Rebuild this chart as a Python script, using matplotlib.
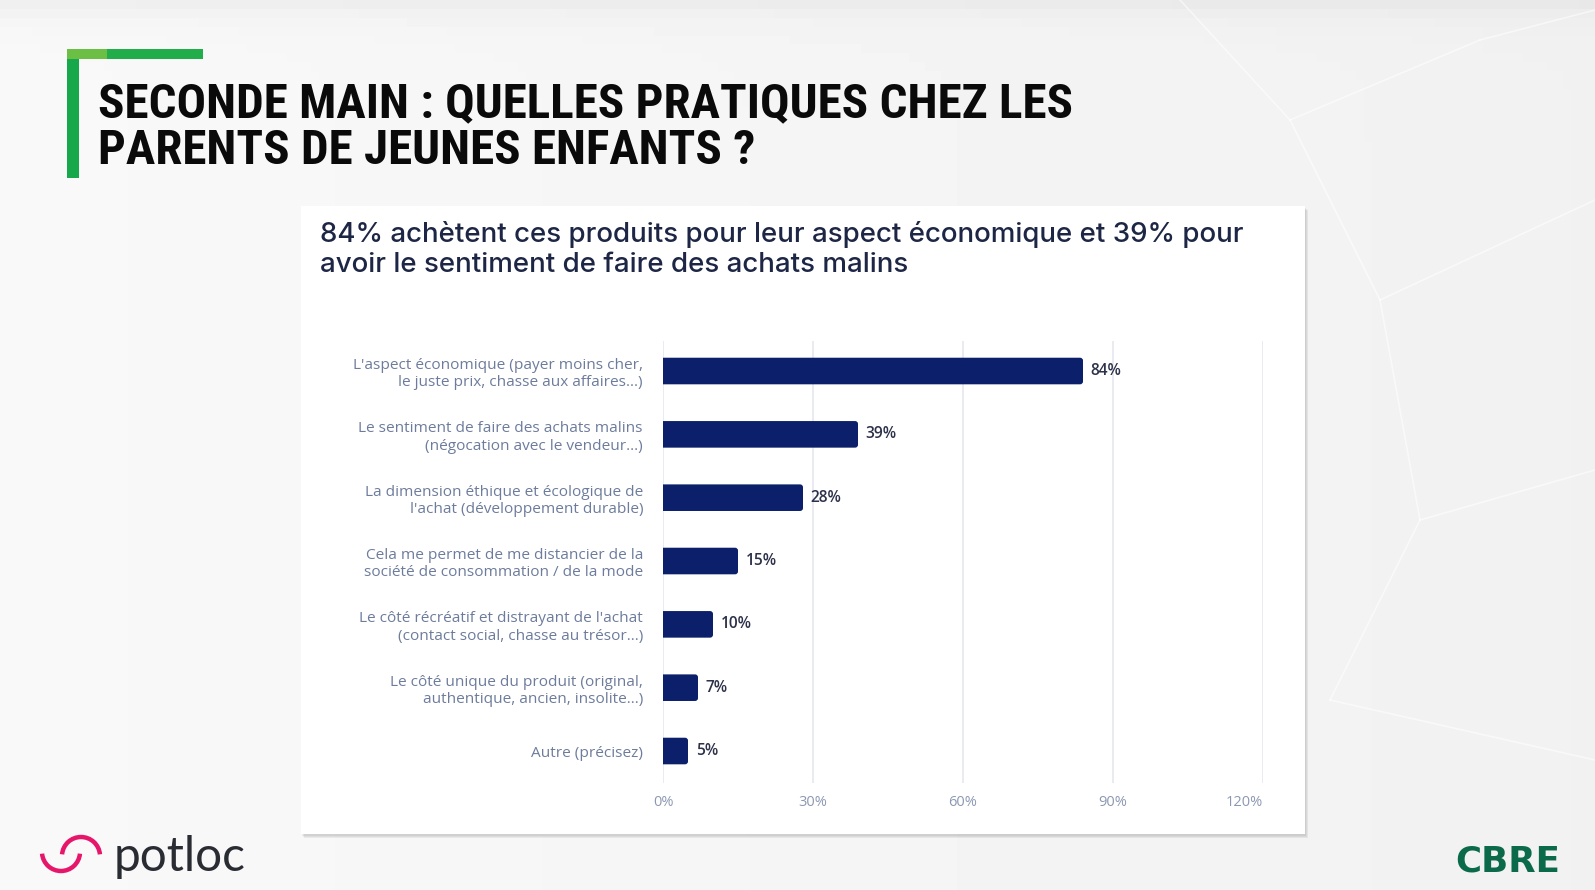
import matplotlib
matplotlib.use("Agg")
import matplotlib.pyplot as plt
from matplotlib.patches import Rectangle, FancyBboxPatch, Arc
from matplotlib import font_manager
import numpy as np

# ---------------- data ----------------
categories = [
    "L'aspect économique (payer moins cher,\nle juste prix, chasse aux affaires…)",
    "Le sentiment de faire des achats malins\n(négocation avec le vendeur…)",
    "La dimension éthique et écologique de\nl'achat (développement durable)",
    "Cela me permet de me distancier de la\nsociété de consommation / de la mode",
    "Le côté récréatif et distrayant de l'achat\n(contact social, chasse au trésor…)",
    "Le côté unique du produit (original,\nauthentique, ancien, insolite…)",
    "Autre (précisez)",
]
values = [84, 39, 28, 15, 10, 7, 5]
xticks = [0, 30, 60, 90, 120]
xtick_labels = ["0%", "30%", "60%", "90%", "120%"]

title_lines = ["SECONDE MAIN : QUELLES PRATIQUES CHEZ LES",
               "PARENTS DE JEUNES ENFANTS ?"]
subtitle_lines = ["84% achètent ces produits pour leur aspect économique et 39% pour",
                  "avoir le sentiment de faire des achats malins"]

# ---------------- figure ----------------
W, H = 1595, 890
fig = plt.figure(figsize=(W / 100, H / 100), dpi=100)
fig.patch.set_facecolor("#f3f3f3")

def fx(x):
    return x / W

def fy(y):
    return 1 - y / H

available = {f.name for f in font_manager.fontManager.ttflist}
title_family = "DejaVu Sans"
for cand in ["Liberation Sans Narrow", "Roboto Condensed", "Open Sans Condensed",
             "DejaVu Sans Condensed", "Roboto"]:
    if cand in available:
        title_family = cand
        break
label_family = ["Open Sans", "DejaVu Sans"]

# background with a soft gradient
bg = fig.add_axes([0, 0, 1, 1], zorder=-10)
gx = np.linspace(0, 1, 200)
gy = np.linspace(0, 1, 100)
GX, GY = np.meshgrid(gx, gy)
grad = 0.975 - 0.03 * GX - 0.035 * np.exp(-GY * 60)
bg.imshow(grad, cmap="gray", vmin=0, vmax=1, extent=[0, W, H, 0], aspect="auto")
seg = [((1180, 0), (1290, 120)), ((1290, 120), (1480, 40)), ((1290, 120), (1380, 300)),
       ((1380, 300), (1595, 200)), ((1380, 300), (1420, 520)), ((1420, 520), (1595, 470)),
       ((1420, 520), (1330, 700)), ((1330, 700), (1595, 760)), ((1480, 40), (1595, 10))]
for (a, b) in seg:
    bg.plot([a[0], b[0]], [a[1], b[1]], color="white", lw=1.2, alpha=0.55)
bg.set_xlim(0, W)
bg.set_ylim(H, 0)
bg.axis("off")

# overlay axes in pixel coordinates for decorations
lg = fig.add_axes([0, 0, 1, 1], zorder=1)
lg.set_xlim(0, W)
lg.set_ylim(H, 0)
lg.axis("off")
lg.patch.set_alpha(0)

# green bracket
lg.add_patch(Rectangle((67, 49), 12, 129, color="#16a84a", lw=0))
lg.add_patch(Rectangle((67, 49), 136, 10, color="#22ad4b", lw=0))
lg.add_patch(Rectangle((67, 49), 40, 10, color="#6cbf45", lw=0))

# white panel with shadow
for i, a in enumerate([0.05, 0.05, 0.06]):
    lg.add_patch(Rectangle((301 + i + 1, 206 + i + 2), 1004, 628, color="black", alpha=a, lw=0))
lg.add_patch(Rectangle((301, 206), 1004, 628, color="white", lw=0))

# potloc logo mark
lg.add_patch(Arc((61, 852), 38, 38, theta1=5, theta2=175, color="#e6176a", lw=3.2))
lg.add_patch(Arc((81, 856), 38, 38, theta1=185, theta2=355, color="#e6176a", lw=3.2))

renderer = fig.canvas.get_renderer()

def fit(t, target_w):
    bb = t.get_window_extent(renderer)
    t.set_fontsize(t.get_fontsize() * target_w / bb.width)

# title
t1 = fig.text(fx(98), fy(117), title_lines[0], fontsize=30, fontweight="black",
              family=[title_family, "DejaVu Sans"], color="#0a0a0a", va="baseline", zorder=5)
fit(t1, 975)
t2 = fig.text(fx(98), fy(164), title_lines[1], fontsize=t1.get_fontsize(), fontweight="black",
              family=[title_family, "DejaVu Sans"], color="#0a0a0a", va="baseline", zorder=5)

# subtitle
s1 = fig.text(fx(320), fy(242), subtitle_lines[0], fontsize=18, family=["Inter", "DejaVu Sans"],
              fontweight="medium", color="#1d2745", va="baseline", zorder=5)
fit(s1, 922)
s2 = fig.text(fx(320), fy(272), subtitle_lines[1], fontsize=s1.get_fontsize(),
              family=["Inter", "DejaVu Sans"], fontweight="medium", color="#1d2745",
              va="baseline", zorder=5)

# ---------------- bar chart ----------------
ax = fig.add_axes([fx(663), 1 - 783 / H, 600 / W, 442 / H], zorder=3)
ax.set_facecolor("none")
ypos = np.arange(len(values))
bar_color = "#0b1f6b"
bars = ax.barh(ypos, values, height=0.42, color=bar_color, zorder=3)
for p in list(bars.patches):
    x, y, w, h = p.get_x(), p.get_y(), p.get_width(), p.get_height()
    p.set_visible(False)
    # start a little left of 0 so the axes clip squares off the left corners
    ax.add_patch(FancyBboxPatch((x - 1.5, y), w + 1.5, h,
                                boxstyle="round,pad=0,rounding_size=0.6",
                                mutation_aspect=0.075, color=bar_color, lw=0, zorder=3))

for yv, v in zip(ypos, values):
    ax.annotate(f"{v}%", (v, yv), xytext=(5.5, 0), textcoords="offset points",
                va="center", ha="left", fontsize=11.2, fontweight="semibold",
                family=label_family, color="#2d3149")

ax.set_xlim(0, 120)
ax.set_ylim(6 + 0.505, -0.474)
ax.set_xticks(xticks)
ax.set_xticklabels(xtick_labels)
ax.set_yticks(ypos)
ax.set_yticklabels(categories, linespacing=1.2)
ax.tick_params(axis="x", length=0, pad=9.0, labelsize=10.5, labelcolor="#8c98b3")
ax.tick_params(axis="y", length=0, pad=14.4, labelsize=10.3, labelcolor="#6d7c9c")
for lab in ax.get_xticklabels() + ax.get_yticklabels():
    lab.set_family(label_family)
ax.get_xticklabels()[-1].set_ha("right")
ax.grid(axis="x", color="#e3e5ee", lw=1.1, zorder=0)
ax.grid(axis="y", visible=False)
for s in ax.spines.values():
    s.set_visible(False)

# scale category labels so the first one spans the reference width
fig.canvas.draw()
ylabs = ax.get_yticklabels()
wfirst = ylabs[0].get_window_extent(renderer).width
new_size = 10.3 * 287 / wfirst
ax.tick_params(axis="y", labelsize=new_size)

# ---------------- logos text ----------------
pt = fig.text(fx(114), fy(871), "potloc", fontsize=30, fontweight="normal",
              family=["Lato", "DejaVu Sans"], color="#2a2c33", va="baseline", zorder=5)
fit(pt, 132)
cb = fig.text(fx(1455), fy(872), "CBRE", fontsize=26, fontweight="heavy",
              family=["DejaVu Sans"], color="#0b6a4a", va="baseline", zorder=5)
fit(cb, 105)

fig.savefig("out.png", dpi=100, facecolor=fig.get_facecolor())
